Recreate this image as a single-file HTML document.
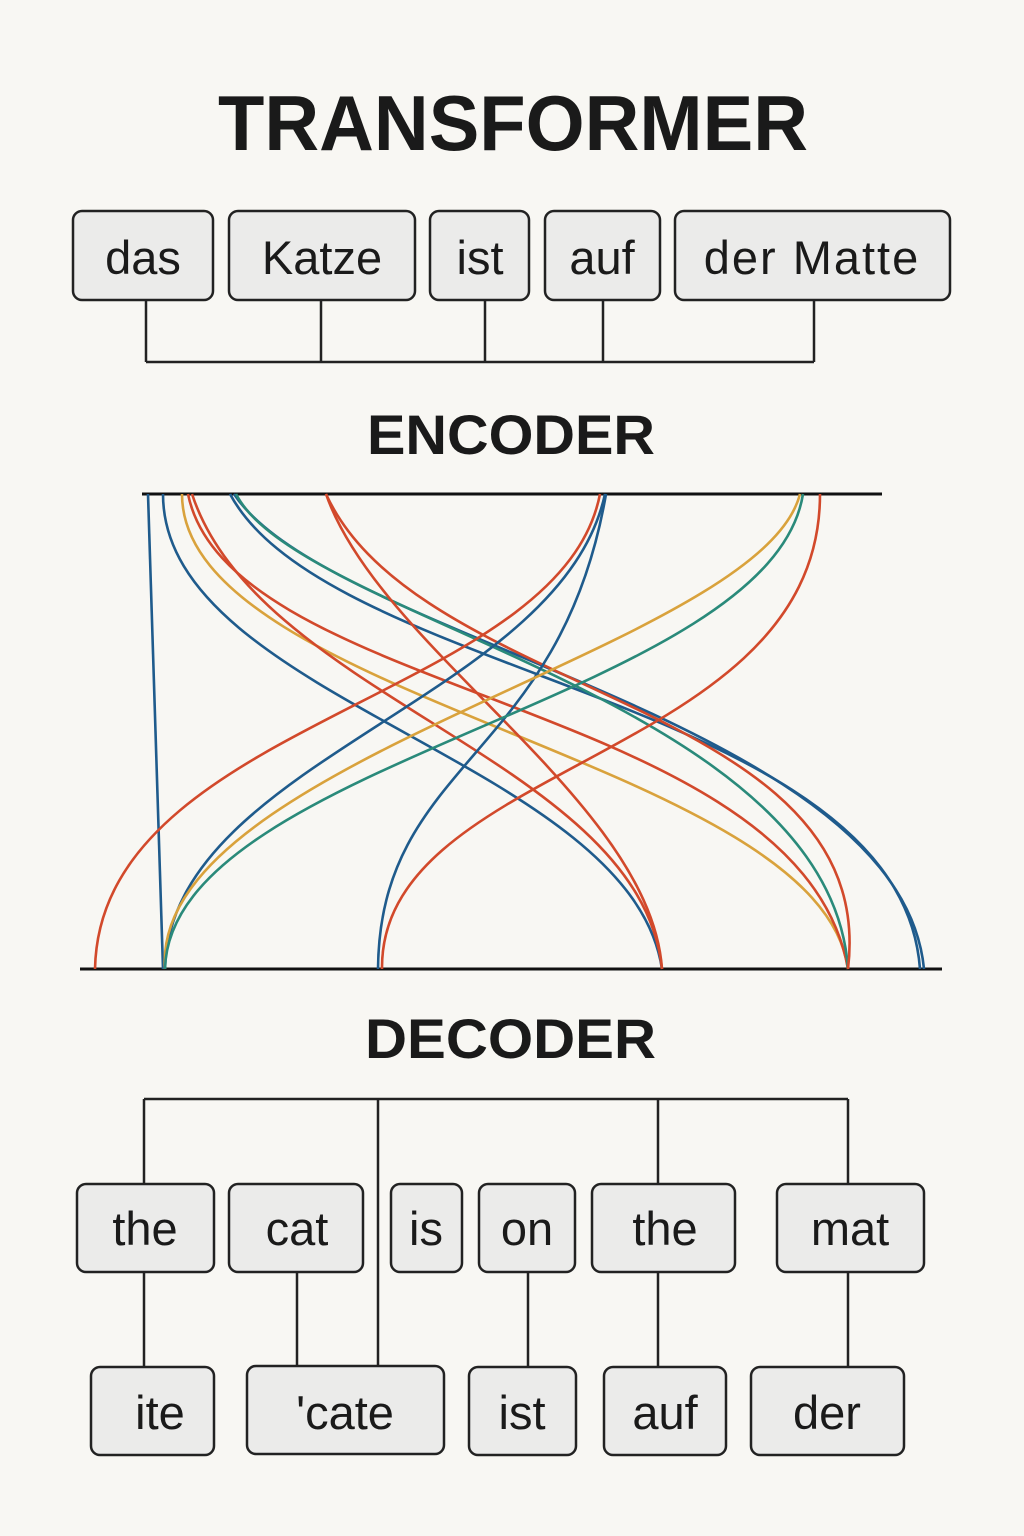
<!DOCTYPE html>
<html><head><meta charset="utf-8"><style>
html,body{margin:0;padding:0;background:#f8f7f3;}
svg{display:block}
text{font-family:"Liberation Sans","DejaVu Sans",sans-serif;fill:#1a1a1a}
.b{fill:#ebebea;stroke:#222;stroke-width:2.5}
.l{stroke:#222;stroke-width:2.5;fill:none}
.w{font-size:47px;text-anchor:middle}
.c{fill:none;stroke-width:2.6}
</style></head><body>
<svg width="1024" height="1536" viewBox="0 0 1024 1536">
<rect width="1024" height="1536" fill="#f8f7f3"/>
<text x="218" y="150" font-size="78" font-weight="bold" textLength="590" lengthAdjust="spacingAndGlyphs">TRANSFORMER</text>
<rect class="b" x="73" y="211" width="140" height="89" rx="9"/>
<rect class="b" x="229" y="211" width="186" height="89" rx="9"/>
<rect class="b" x="430" y="211" width="99" height="89" rx="9"/>
<rect class="b" x="545" y="211" width="115" height="89" rx="9"/>
<rect class="b" x="675" y="211" width="275" height="89" rx="9"/>
<text class="w" x="143" y="274">das</text>
<text class="w" x="322" y="274">Katze</text>
<text class="w" x="480" y="274">ist</text>
<text class="w" x="602" y="274">auf</text>
<text class="w" x="812" y="274" letter-spacing="2">der Matte</text>
<path class="l" d="M146 300V362M321 300V362M485 300V362M603 300V362M814 300V362M146 362H814"/>
<text x="367" y="454" font-size="56" font-weight="bold" textLength="288" lengthAdjust="spacingAndGlyphs">ENCODER</text>
<path d="M142 494H882" stroke="#111" stroke-width="3"/>
<path d="M80 969H942" stroke="#111" stroke-width="3"/>
<g class="c">
<path stroke="#1f5b8c" d="M148 494L163 969"/>
<path stroke="#1f5b8c" d="M163 494C163 700,630 760,662 969"/>
<path stroke="#d9a23c" d="M182 494C182 700,820 760,848 969"/>
<path stroke="#d2492b" d="M188 494C230 700,800 700,848 969"/>
<path stroke="#d2492b" d="M192 494C260 700,640 760,662 969"/>
<path stroke="#1f5b8c" d="M230 494C330 680,900 700,920 969"/>
<path stroke="#1f5b8c" d="M234 494C330 640,900 720,924 969"/>
<path stroke="#2a8a7a" d="M236 494C300 620,830 700,848 969"/>
<path stroke="#d2492b" d="M326 494C380 650,650 800,662 969"/>
<path stroke="#d2492b" d="M326 494C420 700,880 700,848 969"/>
<path stroke="#d2492b" d="M600 494C560 700,100 720,95 969"/>
<path stroke="#1f5b8c" d="M605 494C560 700,170 760,165 969"/>
<path stroke="#1f5b8c" d="M606 494C560 760,380 760,378 969"/>
<path stroke="#d9a23c" d="M800 494C760 650,150 760,165 969"/>
<path stroke="#2a8a7a" d="M803 494C770 700,170 760,165 969"/>
<path stroke="#d2492b" d="M820 494C820 760,380 760,382 969"/>
</g>
<text x="365" y="1058" font-size="56" font-weight="bold" textLength="291" lengthAdjust="spacingAndGlyphs">DECODER</text>
<path class="l" d="M144 1099H848M144 1099V1184M378 1099V1366M658 1099V1184M848 1099V1184"/>
<path class="l" d="M144 1272V1367M297 1272V1366M528 1272V1367M658 1272V1367M848 1272V1367"/>
<rect class="b" x="77" y="1184" width="137" height="88" rx="9"/>
<rect class="b" x="229" y="1184" width="134" height="88" rx="9"/>
<rect class="b" x="391" y="1184" width="71" height="88" rx="9"/>
<rect class="b" x="479" y="1184" width="96" height="88" rx="9"/>
<rect class="b" x="592" y="1184" width="143" height="88" rx="9"/>
<rect class="b" x="777" y="1184" width="147" height="88" rx="9"/>
<text class="w" x="145" y="1245">the</text>
<text class="w" x="297" y="1245">cat</text>
<text class="w" x="426" y="1245">is</text>
<text class="w" x="527" y="1245">on</text>
<text class="w" x="665" y="1245">the</text>
<text class="w" x="850" y="1245">mat</text>
<rect class="b" x="91" y="1367" width="123" height="88" rx="9"/>
<rect class="b" x="247" y="1366" width="197" height="88" rx="9"/>
<rect class="b" x="469" y="1367" width="107" height="88" rx="9"/>
<rect class="b" x="604" y="1367" width="122" height="88" rx="9"/>
<rect class="b" x="751" y="1367" width="153" height="88" rx="9"/>
<text class="w" x="160" y="1429">ite</text>
<text class="w" x="345" y="1429">'cate</text>
<text class="w" x="522" y="1429">ist</text>
<text class="w" x="665" y="1429">auf</text>
<text class="w" x="827" y="1429">der</text>
</svg>
</body></html>
